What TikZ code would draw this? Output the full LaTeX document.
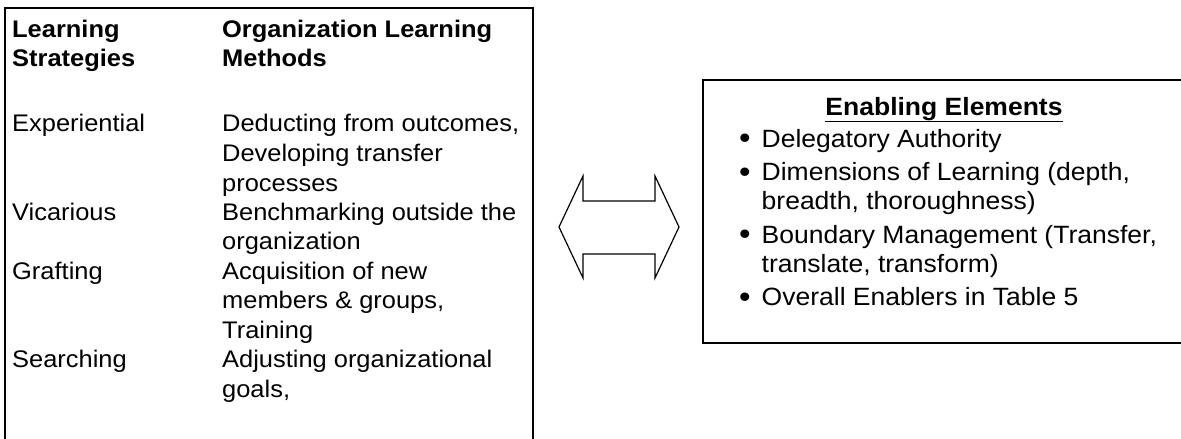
\documentclass[tikz,border=0pt]{standalone}
\usepackage{fontspec}
\setmainfont{Liberation Sans}[FakeStretch=1.06]
\usetikzlibrary{positioning,calc}
\newcommand{\cellfont}{\fontsize{24}{29.5}\selectfont}
\newcommand{\itemfont}{\fontsize{25}{29}\selectfont}
\newcommand{\bigdot}{\raisebox{-1.5pt}{\fontsize{31}{29}\selectfont\textbullet}}

\begin{document}
\begin{tikzpicture}[x=1pt, y=-1pt, font=\cellfont,
    frame/.style={draw, line width=1.8pt},
    txt/.style={inner sep=0pt, anchor=base west, align=left}]
    \useasboundingbox (0,0) rectangle (1181,439);
    \clip (0,0) rectangle (1181,439);

    % Learning strategies box (runs off the bottom)
    \draw[frame] (5,8) rectangle (533,460);
    \node[txt] (strat) at (12,37) {\begin{tabular}[t]{@{}p{210pt}@{}p{312pt}@{}}
        \textbf{Learning}\newline\textbf{Strategies} &
        \textbf{Organization Learning}\newline\textbf{Methods} \\[36pt]
        Experiential & Deducting from outcomes,\newline Developing transfer\newline processes \\
        Vicarious & Benchmarking outside the\newline organization \\
        Grafting & Acquisition of new\newline members \& groups,\newline Training \\
        Searching & Adjusting organizational\newline goals,
    \end{tabular}};

    % Two-way arrow
    \coordinate (mid) at (619,227);
    \draw[line width=1.2pt, line join=miter] (mid) +(-60,0) -- +(-36,-51) -- +(-36,-26)
        -- +(36,-26) -- +(36,-51) -- +(60,0) -- +(36,51) -- +(36,27)
        -- +(-36,27) -- +(-36,51) -- cycle;

    % Enabling elements box (runs off the right)
    \draw[frame] (703,80) rectangle (1190,343);
    \node[inner sep=0pt, anchor=base, font=\itemfont] (enabtitle) at (944,115)
        {\underline{\textbf{Enabling Elements}}};
    \node[txt, font=\itemfont] (enab) at (739,147) {\begin{tabular}[t]{@{}l@{\hspace{11pt}}l@{}}
        \bigdot & Delegatory Authority \\[4.5pt]
        \bigdot & Dimensions of Learning (depth, \\
        & breadth, thoroughness) \\[4.5pt]
        \bigdot & Boundary Management (Transfer, \\
        & translate, transform) \\[4.5pt]
        \bigdot & Overall Enablers in Table 5
    \end{tabular}};
\end{tikzpicture}
\end{document}
